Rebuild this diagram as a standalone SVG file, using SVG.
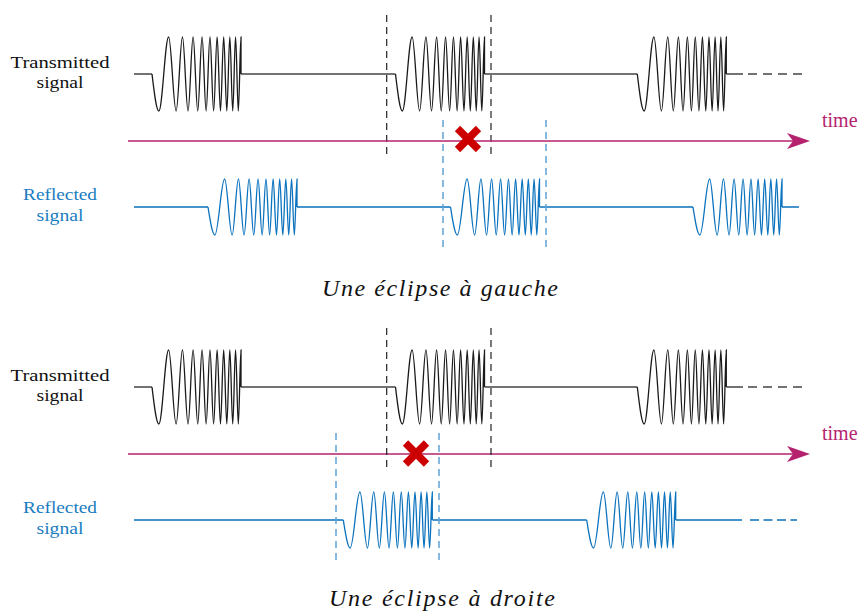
<svg xmlns="http://www.w3.org/2000/svg" xmlns:xlink="http://www.w3.org/1999/xlink" width="859" height="615" viewBox="0 0 859 615">
<style>
.lbl{font-family:"Liberation Serif","DejaVu Serif",serif;font-size:17.5px;text-anchor:middle}
.tx-t{fill:#111}
.rx-t{fill:#1a7cc1}
.time{font-family:"Liberation Serif","DejaVu Serif",serif;font-size:20px;fill:#b5236f}
.cap{font-family:"Liberation Serif","DejaVu Serif",serif;font-style:italic;font-size:24px;fill:#111;text-anchor:middle}
.tx{fill:none;stroke:#1a1a1a;stroke-width:1.3}
.txb{fill:none;stroke:#444;stroke-width:1.3}
.rx{fill:none;stroke:#0b72bd;stroke-width:1.3}
.vb{stroke:#222;stroke-width:1.2;stroke-dasharray:7 5}
.vr{stroke:#5fa3d6;stroke-width:1.5;stroke-dasharray:7 5}
.arr{stroke:#b5236f;stroke-width:1.6;fill:none}
.x{stroke:#cc0000;stroke-width:7.5;stroke-linecap:butt}
</style>
<defs>
<path id="chirp" vector-effect="non-scaling-stroke" d="M0,0 C2.24,5.12 4.38,10 6.86,10 C10.41,10 13.07,-10 16.62,-10 C19.35,-10 21.40,10 24.13,10 C26.43,10 28.16,-10 30.46,-10 C32.49,-10 34.02,10 36.05,10 C37.89,10 39.26,-10 41.10,-10 C42.79,-10 44.05,10 45.74,10 C47.31,10 48.50,-10 50.07,-10 C51.55,-10 52.65,10 54.13,10 C55.53,10 56.57,-10 57.97,-10 C59.30,-10 60.30,10 61.63,10 C62.90,10 63.85,-10 65.12,-10 C66.34,-10 67.25,10 68.47,10 C69.64,10 70.52,-10 71.69,-10 C72.82,-10 73.68,10 74.81,10 C75.90,10 76.73,-10 77.82,-10 C78.88,-10 79.67,10 80.73,10 C81.76,10 82.53,-10 83.56,-10 C84.56,-10 85.32,10 86.32,10 C87.29,10 88.03,-10 89,-10 L89,0"/>
<marker id="ah" markerUnits="userSpaceOnUse" markerWidth="23" markerHeight="16" viewBox="0 0 23 16" refX="6" refY="8" orient="auto">
<path d="M0,0 L23,8 L0,16 L6,8 Z" fill="#b5236f"/>
</marker>
</defs>

<!-- TOP PANEL -->
<g id="label-tx-top"><text class="lbl tx-t" x="60" y="67.5" textLength="99" lengthAdjust="spacingAndGlyphs">Transmitted</text><text class="lbl tx-t" x="60" y="88" textLength="47" lengthAdjust="spacingAndGlyphs">signal</text></g>
<g id="label-rx-top"><text class="lbl rx-t" x="60" y="200" textLength="74" lengthAdjust="spacingAndGlyphs">Reflected</text><text class="lbl rx-t" x="60" y="220.5" textLength="47" lengthAdjust="spacingAndGlyphs">signal</text></g>

<g id="tx-top">
<path class="txb" d="M134,74 H152 M241,74 H395.5 M484.5,74 H637.3 M726.3,74 H743"/>
<line class="txb" x1="748" y1="74" x2="802" y2="74" stroke-dasharray="9 6"/>
<use xlink:href="#chirp" class="tx" transform="translate(152,74) scale(1,3.7)"/>
<use xlink:href="#chirp" class="tx" transform="translate(395.5,74) scale(1,3.7)"/>
<use xlink:href="#chirp" class="tx" transform="translate(637.3,74) scale(1,3.7)"/>
</g>

<g id="rx-top">
<path class="rx" d="M134,207 H208 M297,207 H450.5 M539.5,207 H693 M782,207 H799"/>
<use xlink:href="#chirp" class="rx" transform="translate(208,207) scale(1,2.8)"/>
<use xlink:href="#chirp" class="rx" transform="translate(450.5,207) scale(1,2.8)"/>
<use xlink:href="#chirp" class="rx" transform="translate(693,207) scale(1,2.8)"/>
</g>

<g id="markers-top">
<line class="vb" x1="386.7" y1="15" x2="386.7" y2="158"/>
<line class="vb" x1="491" y1="15" x2="491" y2="158"/>
<line class="vr" x1="443" y1="120" x2="443" y2="251"/>
<line class="vr" x1="546" y1="120" x2="546" y2="251"/>
</g>

<g id="connectors">
<line class="arr" x1="128" y1="141" x2="793" y2="141" marker-end="url(#ah)"/>
<line class="arr" x1="128" y1="454" x2="793" y2="454" marker-end="url(#ah)"/>
</g>

<g id="time-top"><text class="time" x="822" y="127">time</text></g>

<g id="cross-top" transform="translate(468,139)">
<line class="x" x1="-10.5" y1="-10.5" x2="10.5" y2="10.5"/>
<line class="x" x1="10.5" y1="-10.5" x2="-10.5" y2="10.5"/>
</g>

<g id="caption-top"><text class="cap" x="440" y="296" textLength="236" lengthAdjust="spacing">Une éclipse à gauche</text></g>

<!-- BOTTOM PANEL -->
<g id="label-tx-bottom"><text class="lbl tx-t" x="60" y="380.5" textLength="99" lengthAdjust="spacingAndGlyphs">Transmitted</text><text class="lbl tx-t" x="60" y="401" textLength="47" lengthAdjust="spacingAndGlyphs">signal</text></g>
<g id="label-rx-bottom"><text class="lbl rx-t" x="60" y="513" textLength="74" lengthAdjust="spacingAndGlyphs">Reflected</text><text class="lbl rx-t" x="60" y="533.5" textLength="47" lengthAdjust="spacingAndGlyphs">signal</text></g>

<g id="tx-bottom">
<path class="txb" d="M134,387 H152 M241,387 H395.5 M484.5,387 H637.3 M726.3,387 H743"/>
<line class="txb" x1="748" y1="387" x2="802" y2="387" stroke-dasharray="9 6"/>
<use xlink:href="#chirp" class="tx" transform="translate(152,387) scale(1,3.7)"/>
<use xlink:href="#chirp" class="tx" transform="translate(395.5,387) scale(1,3.7)"/>
<use xlink:href="#chirp" class="tx" transform="translate(637.3,387) scale(1,3.7)"/>
</g>

<g id="rx-bottom">
<path class="rx" d="M134,520 H343.3 M432.5,520 H586.7 M675.7,520 H742"/>
<line class="rx" x1="750" y1="520" x2="797" y2="520" stroke-dasharray="9 4.5"/>
<use xlink:href="#chirp" class="rx" transform="translate(343.3,520) scale(1,2.8)"/>
<use xlink:href="#chirp" class="rx" transform="translate(586.7,520) scale(1,2.8)"/>
</g>

<g id="markers-bottom">
<line class="vb" x1="386.7" y1="328" x2="386.7" y2="471"/>
<line class="vb" x1="491" y1="328" x2="491" y2="471"/>
<line class="vr" x1="336" y1="433" x2="336" y2="564"/>
<line class="vr" x1="439" y1="433" x2="439" y2="564"/>
</g>

<g id="time-bottom"><text class="time" x="822" y="440">time</text></g>

<g id="cross-bottom" transform="translate(416,453.5)">
<line class="x" x1="-10.5" y1="-10.5" x2="10.5" y2="10.5"/>
<line class="x" x1="10.5" y1="-10.5" x2="-10.5" y2="10.5"/>
</g>

<g id="caption-bottom"><text class="cap" x="442" y="606" textLength="226" lengthAdjust="spacing">Une éclipse à droite</text></g>
</svg>
